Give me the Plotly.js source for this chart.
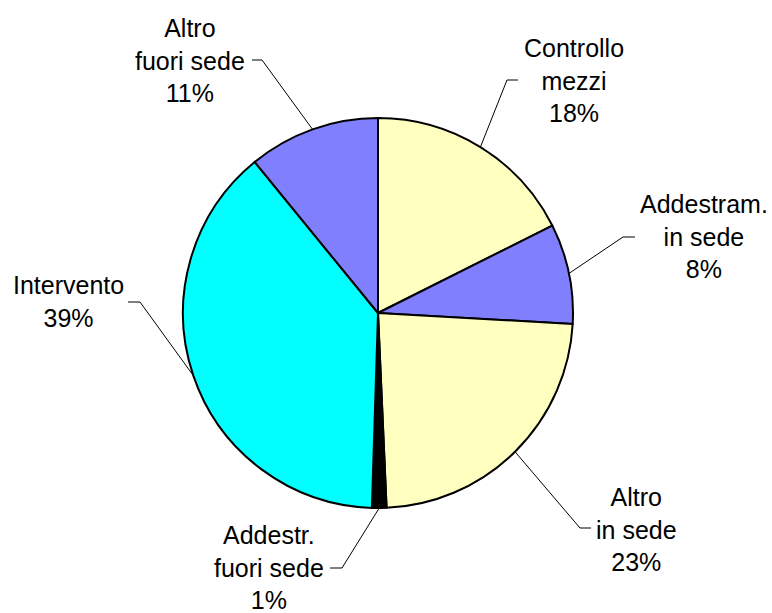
<!DOCTYPE html>
<html>
<head>
<meta charset="utf-8">
<script src="https://cdn.plot.ly/plotly-3.0.1.min.js"></script>
<style>html,body{margin:0;padding:0;background:#fff;}#chart{width:772px;height:613px;}</style>
</head>
<body>
<div id="chart"></div>
<script>
// ---- data ----
const categories = ['Controllo<br>mezzi', 'Addestram.<br>in sede', 'Altro<br>in sede', 'Addestr.<br>fuori sede', 'Intervento', 'Altro<br>fuori sede'];
const values = [17.6, 8.3, 23.4, 1.2, 38.6, 10.9];
const colors = ['#FFFFC0', '#8080FF', '#FFFFC0', '#000000', '#00FFFF', '#8080FF'];

// ---- layout config (pixels) ----
const W = 772, H = 613;
const CX = 378, CY = 313, R = 195;
// label centre, elbow, end of horizontal segment
const labelPos = [
  {c: [574, 80],  e: [507, 80],  h: [518, 80]},
  {c: [704, 237], e: [623, 237], h: [635, 237]},
  {c: [636, 529], e: [580, 528], h: [591, 528]},
  {c: [269, 567], e: [342, 568], h: [330, 568]},
  {c: [68, 301],  e: [140, 302], h: [128, 302]},
  {c: [190, 60],  e: [262, 60],  h: [252, 60]}
];

const px = x => x / W;
const py = y => 1 - y / H;

const total = values.reduce((a, b) => a + b, 0);
const annotations = [];
const shapes = [];
let cum = 0;
values.forEach((v, i) => {
  const mid = (cum + v / 2) / total * 2 * Math.PI;
  cum += v;
  const ex = CX + R * Math.sin(mid);
  const ey = CY - R * Math.cos(mid);
  const lp = labelPos[i];
  const pct = Math.round(v / total * 100) + '%';
  annotations.push({
    x: px(lp.c[0]), y: py(lp.c[1]), xref: 'paper', yref: 'paper',
    xanchor: 'center', yanchor: 'middle', showarrow: false, align: 'center',
    text: categories[i] + '<br>' + pct,
    font: {family: 'Liberation Sans, Arial, sans-serif', size: 25, color: '#000'}
  });
  shapes.push({
    type: 'path', xref: 'paper', yref: 'paper',
    path: `M ${px(ex)} ${py(ey)} L ${px(lp.e[0])} ${py(lp.e[1])} L ${px(lp.h[0])} ${py(lp.h[1])}`,
    line: {color: '#000', width: 1}
  });
});

const trace = {
  type: 'pie',
  values: values,
  labels: categories,
  sort: false,
  direction: 'clockwise',
  rotation: 0,
  textinfo: 'none',
  hoverinfo: 'none',
  marker: {colors: colors, line: {color: '#000', width: 2}},
  domain: {x: [px(CX - R), px(CX + R)], y: [py(CY + R), py(CY - R)]}
};

Plotly.newPlot('chart', [trace], {
  width: W, height: H,
  margin: {l: 0, r: 0, t: 0, b: 0},
  showlegend: false,
  paper_bgcolor: '#fff',
  annotations: annotations,
  shapes: shapes
}, {displayModeBar: false, staticPlot: true});
</script>
</body>
</html>
